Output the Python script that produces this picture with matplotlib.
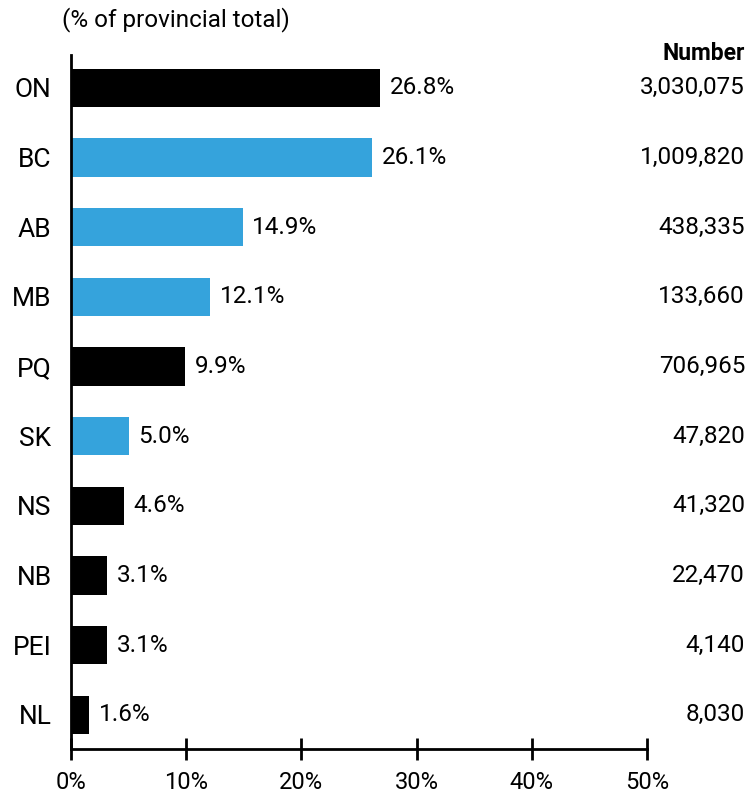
import matplotlib.pyplot as plt
import matplotlib.transforms as mtransforms
import numpy as np

plt.rcParams['font.family'] = ['Roboto', 'DejaVu Sans']

provinces = ["ON", "BC", "AB", "MB", "PQ", "SK", "NS", "NB", "PEI", "NL"]
share = [26.8, 26.1, 14.9, 12.1, 9.9, 5.0, 4.6, 3.1, 3.1, 1.6]
numbers = ["3,030,075", "1,009,820", "438,335", "133,660", "706,965",
           "47,820", "41,320", "22,470", "4,140", "8,030"]
highlight = ["ON", "PQ", "NS", "NB", "PEI", "NL"]  # black bars, the rest blue
xticks = [0, 10, 20, 30, 40, 50]

colors = ["#000000" if p in highlight else "#35A3DC" for p in provinces]

fig = plt.figure(figsize=(7.48, 7.94), dpi=100)
ax = fig.add_axes([71/748, 1 - 749/794, 576/748, (749 - 55)/794])

y = np.arange(len(provinces))
ax.barh(y, share, height=0.55, color=colors)
ax.set_ylim(9.49, -0.47)
ax.set_xlim(0, 50)

for yi, v in zip(y, share):
    ax.annotate(f"{v:.1f}%", (v, yi), xytext=(7, 0), textcoords="offset points",
                va="center", ha="left", fontsize=17.5)

# number column: x in figure coords, y in data coords
trans = mtransforms.blended_transform_factory(fig.transFigure, ax.transData)
for yi, n in zip(y, numbers):
    ax.text(745/748, yi, n, transform=trans, ha="right", va="center",
            fontsize=17.5)
fig.text(745/748, 1 - 54/794, "Number", ha="right", va="center",
         fontsize=16.5, fontweight="bold")
fig.text(62/748, 1 - 20/794, "(% of provincial total)", ha="left", va="center",
         fontsize=17.5)

ax.set_yticks(y)
ax.set_yticklabels(provinces, fontsize=19)
ax.tick_params(axis="y", length=0, pad=14)
ax.set_xticks(xticks)
ax.set_xticklabels([f"{t}%" for t in xticks], fontsize=17)
ax.tick_params(axis="x", direction="inout", length=16, width=2, pad=8)

for s in ["top", "right"]:
    ax.spines[s].set_visible(False)
ax.spines["left"].set_linewidth(2)
ax.spines["bottom"].set_linewidth(2)

fig.savefig("out.png", dpi=100)
